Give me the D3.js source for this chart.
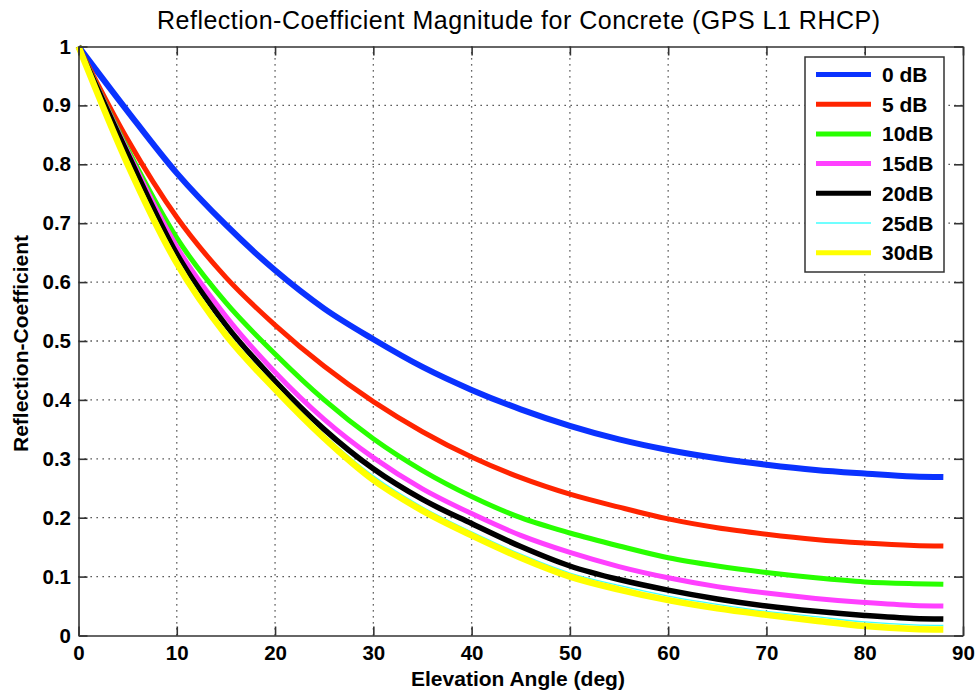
<!DOCTYPE html>
<html>
<head>
<meta charset="utf-8">
<script src="https://cdn.jsdelivr.net/npm/d3@7"></script>
<style>
  body { margin: 0; background: #fff; }
  svg { display: block; }
  text { font-family: "Liberation Sans", Arial, sans-serif; fill: #000; }
</style>
</head>
<body>
<svg id="chart" width="978" height="691"></svg>
<script>
// elevation angles (deg) where the curves were read
var angles = [0, 5, 10, 15, 20, 25, 30, 35, 40, 45, 50, 55, 60, 65, 70, 75, 80, 85, 88];

// one array per dielectric contrast
var db0  = [1, 0.890, 0.785, 0.697, 0.620, 0.555, 0.503, 0.456, 0.417, 0.384, 0.356, 0.333, 0.315, 0.301, 0.290, 0.281, 0.275, 0.270, 0.269];
var db5  = [1, 0.842, 0.710, 0.608, 0.527, 0.457, 0.397, 0.346, 0.303, 0.268, 0.240, 0.218, 0.198, 0.183, 0.172, 0.163, 0.157, 0.153, 0.152];
var db10 = [1, 0.826, 0.675, 0.565, 0.478, 0.400, 0.334, 0.280, 0.236, 0.200, 0.174, 0.152, 0.132, 0.118, 0.107, 0.098, 0.091, 0.088, 0.087];
var db15 = [1, 0.822, 0.660, 0.542, 0.447, 0.367, 0.302, 0.249, 0.207, 0.170, 0.141, 0.117, 0.098, 0.083, 0.072, 0.063, 0.056, 0.051, 0.050];
var db20 = [1, 0.818, 0.648, 0.527, 0.432, 0.350, 0.283, 0.231, 0.190, 0.151, 0.118, 0.095, 0.077, 0.062, 0.050, 0.041, 0.034, 0.029, 0.028];
var db25 = [1, 0.808, 0.640, 0.517, 0.424, 0.341, 0.271, 0.218, 0.176, 0.138, 0.106, 0.085, 0.067, 0.053, 0.041, 0.032, 0.023, 0.018, 0.017];
var db30 = [1, 0.800, 0.632, 0.510, 0.418, 0.335, 0.264, 0.212, 0.170, 0.132, 0.100, 0.078, 0.060, 0.046, 0.035, 0.025, 0.016, 0.011, 0.010];

var seriesNames = ["0 dB", "5 dB", "10dB", "15dB", "20dB", "25dB", "30dB"];
var seriesData = [db0, db5, db10, db15, db20, db25, db30];
var colors = ["#0a32ff", "#ff2400", "#28ff00", "#ff40ff", "#000000", "#40ffff", "#ffff00"];
var widths = [6, 5, 5, 5, 5.5, 1.3, 6.5];

var xTicks = [0, 10, 20, 30, 40, 50, 60, 70, 80, 90];
var yTicks = [0, 0.1, 0.2, 0.3, 0.4, 0.5, 0.6, 0.7, 0.8, 0.9, 1];

var svg = d3.select("#chart");
var m = {left: 78.5, right: 963, top: 46.5, bottom: 635.5};

var x = d3.scaleLinear().domain([0, 90]).range([m.left, m.right]);
var y = d3.scaleLinear().domain([0, 1]).range([m.bottom, m.top]);

// dotted grid
var grid = svg.append("g")
	.attr("stroke", "#333")
	.attr("stroke-width", 1.3)
	.attr("stroke-dasharray", "1.3,4.7");
grid.selectAll("line.vx").data(xTicks.slice(1, -1)).enter().append("line")
	.attr("x1", function(d) { return x(d); }).attr("x2", function(d) { return x(d); })
	.attr("y1", m.bottom).attr("y2", m.top);
grid.selectAll("line.hy").data(yTicks.slice(1, -1)).enter().append("line")
	.attr("y1", function(d) { return y(d); }).attr("y2", function(d) { return y(d); })
	.attr("x1", m.left).attr("x2", m.right);

// curves
var line = d3.line()
	.x(function(d) { return x(d[0]); })
	.y(function(d) { return y(d[1]); })
	.curve(d3.curveMonotoneX);

seriesData.forEach(function(vals, i) {
	svg.append("path")
		.datum(angles.map(function(a, j) { return [a, vals[j]]; }))
		.attr("fill", "none")
		.attr("stroke", colors[i])
		.attr("stroke-width", widths[i])
		.attr("stroke-linejoin", "round")
		.attr("d", line);
});

// axes, ticks inward on all four sides
var tickLen = 9;
var axisStyle = function(g) {
	g.select(".domain").attr("stroke", "#333").attr("stroke-width", 1.6);
	g.selectAll(".tick line").attr("stroke", "#333").attr("stroke-width", 1.6);
	g.selectAll(".tick text").style("font-size", "20.5px").style("font-weight", "bold");
};

svg.append("g").attr("transform", "translate(0," + m.bottom + ")")
	.call(d3.axisBottom(x).tickValues(xTicks).tickSizeInner(-tickLen).tickSizeOuter(0).tickPadding(10).tickFormat(d3.format("d")))
	.call(axisStyle);
svg.append("g").attr("transform", "translate(0," + m.top + ")")
	.call(d3.axisTop(x).tickValues(xTicks).tickSizeInner(-tickLen).tickSizeOuter(0).tickFormat(""))
	.call(axisStyle);
svg.append("g").attr("transform", "translate(" + m.left + ",0)")
	.call(d3.axisLeft(y).tickValues(yTicks).tickSizeInner(-tickLen).tickSizeOuter(0).tickPadding(7.5).tickFormat(function(d) { return d3.format("~g")(d); }))
	.call(axisStyle);
svg.append("g").attr("transform", "translate(" + m.right + ",0)")
	.call(d3.axisRight(y).tickValues(yTicks).tickSizeInner(-tickLen).tickSizeOuter(0).tickFormat(""))
	.call(axisStyle);

svg.selectAll("text").attr("font-family", null);

// titles
svg.append("text")
	.attr("x", 518.5).attr("y", 29)
	.attr("text-anchor", "middle")
	.attr("textLength", 723).attr("lengthAdjust", "spacing")
	.style("font-size", "25px")
	.text("Reflection-Coefficient Magnitude for Concrete (GPS L1 RHCP)");

svg.append("text")
	.attr("x", 518).attr("y", 686)
	.attr("text-anchor", "middle")
	.style("font-size", "21px").style("font-weight", "bold")
	.text("Elevation Angle (deg)");

svg.append("text")
	.attr("transform", "translate(28," + 343.5 + ") rotate(-90)")
	.attr("text-anchor", "middle")
	.style("font-size", "21px").style("font-weight", "bold")
	.text("Reflection-Coefficient");

// legend
var lg = svg.append("g");
lg.append("rect")
	.attr("x", 805).attr("y", 57).attr("width", 139).attr("height", 215)
	.attr("fill", "#fff").attr("stroke", "#333").attr("stroke-width", 1.5);

var rows = lg.selectAll("g.row").data(seriesNames).enter().append("g")
	.attr("transform", function(d, i) { return "translate(0," + (74.5 + i * 29.7) + ")"; });
rows.append("line")
	.attr("x1", 816).attr("x2", 871).attr("y1", 0).attr("y2", 0)
	.attr("stroke", function(d, i) { return colors[i]; })
	.attr("stroke-width", function(d, i) { return i === 5 ? 1.5 : 5; });
rows.append("text")
	.attr("x", 882).attr("y", 7.5)
	.style("font-size", "21px").style("font-weight", "bold")
	.text(function(d) { return d; });
</script>
</body>
</html>
